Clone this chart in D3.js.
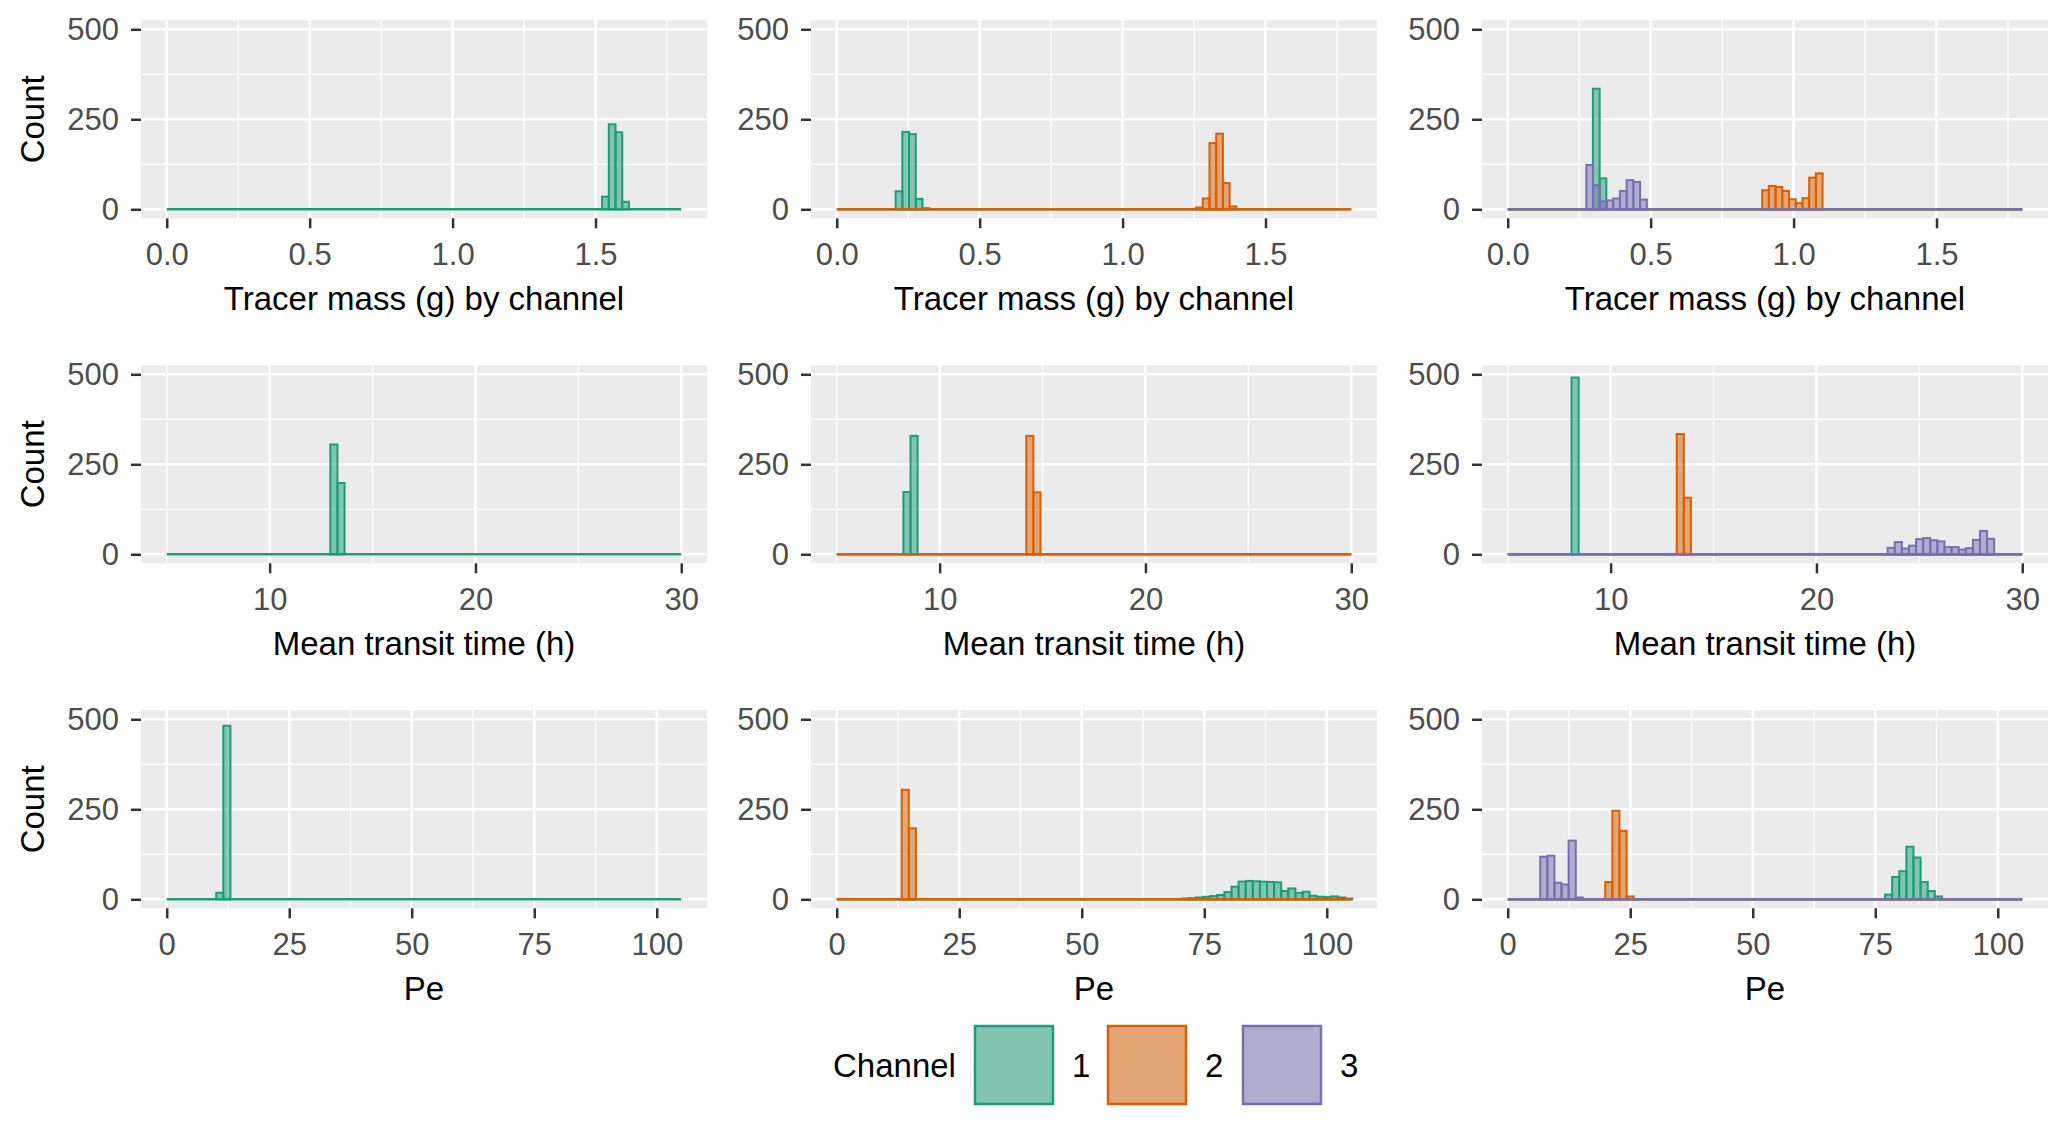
<!DOCTYPE html>
<html>
<head>
<meta charset="utf-8">
<script src="https://cdn.jsdelivr.net/npm/d3@7"></script>
<style>
  body { margin: 0; background: #fff; }
  text { font-family: "Liberation Sans", Arial, sans-serif; }
</style>
</head>
<body>
<div id="chart"></div>
<script>
// channels and colours (Dark2)
const channels = ["1", "2", "3"];
const channelColors = ["#1B9E77", "#D95F02", "#7570B3"];

// y axis shared by every panel
const countLimits = [0, 500];
const countTicks = [0, 250, 500];

// row 1: tracer mass
const massLimits = [0, 1.8];
const massTicks = [0, 0.5, 1.0, 1.5];
const massBin = 0.0235;
// starts and counts per panel (column), then per channel
const massStarts = [[1.523], [0.206, 1.257], [0.298, 0.890, 0.275]];
const massCounts = [
  [[35, 236, 214, 21]],
  [[50, 215, 209, 29, 3], [5, 30, 184, 210, 73, 8]],
  [[335, 86], [53, 65, 62, 51, 28, 17, 31, 88, 100], [123, 67, 22, 25, 30, 51, 81, 76, 27]]
];

// row 2: mean transit time
const timeLimits = [5, 30];
const timeTicks = [10, 20, 30];
const timeBin = 0.345;
const timeStarts = [[12.95], [8.24, 14.21], [8.10, 13.21, 23.46]];
const timeCounts = [
  [[305, 198]],
  [[173, 329], [329, 172]],
  [[491], [334, 157], [18, 34, 16, 24, 42, 45, 39, 36, 20, 20, 13, 17, 40, 65, 43]]
];

// row 3: Peclet number
const peLimits = [0, 105];
const peTicks = [0, 25, 50, 75, 100];
const peBin = 1.45;
const peStarts = [[10.1], [70.4, 13.26], [77.0, 19.9, 6.63]];
const peCounts = [
  [[18, 482]],
  [[2, 3, 5, 7, 9, 12, 20, 35, 49, 51, 50, 49, 48, 47, 23, 30, 18, 21, 10, 7, 6, 8, 5, 2], [304, 197]],
  [[13, 62, 78, 146, 116, 48, 23, 8], [48, 246, 190, 8], [118, 121, 46, 41, 163, 5]]
];

const rows = [
  { title: "Tracer mass (g) by channel", limits: massLimits, ticks: massTicks, fmt: d3.format(".1f"), bin: massBin, starts: massStarts, counts: massCounts },
  { title: "Mean transit time (h)", limits: timeLimits, ticks: timeTicks, fmt: d3.format("d"), bin: timeBin, starts: timeStarts, counts: timeCounts },
  { title: "Pe", limits: peLimits, ticks: peTicks, fmt: d3.format("d"), bin: peBin, starts: peStarts, counts: peCounts }
];

const width = 2067;
const height = 1124;
const colLeft = [141, 811, 1482];
const rowTop = [20.3, 365.3, 710.3];
const panelW = 566;
const panelH = 198;

const svg = d3.select("#chart").append("svg")
  .attr("width", width).attr("height", height);
svg.append("rect").attr("width", width).attr("height", height).attr("fill", "#fff");

// ggplot style 5% expansion
const expand = (lim) => {
  const s = lim[1] - lim[0];
  return [lim[0] - 0.05 * s, lim[1] + 0.05 * s];
}

// minor breaks halfway between majors, kept inside the domain
const minorsOf = (ticks, dom) => {
  const step = ticks[1] - ticks[0];
  const out = [];
  for (let i = -1; i < ticks.length; i++) {
    const m = (i < 0 ? ticks[0] - step : ticks[i]) + step / 2;
    if (m > dom[0] && m < dom[1]) out.push(m);
  }
  return out;
}

const styleAxis = (g) => {
  g.select(".domain").remove();
  g.selectAll(".tick line").attr("stroke", "#333").attr("stroke-width", 2.5);
  g.selectAll(".tick text").attr("fill", "#4D4D4D").attr("font-size", 31);
}

rows.forEach((row, r) => {
  for (let c = 0; c < 3; c++) {
    const px = colLeft[c];
    const py = rowTop[r];
    const xDom = expand(row.limits);
    const yDom = expand(countLimits);
    const x = d3.scaleLinear().domain(xDom).range([px, px + panelW]);
    const y = d3.scaleLinear().domain(yDom).range([py + panelH, py]);
    const g = svg.append("g");

    g.append("rect")
      .attr("x", px).attr("y", py).attr("width", panelW).attr("height", panelH)
      .attr("fill", "#EBEBEB");

    // grid
    g.selectAll(".vminor").data(minorsOf(row.ticks, xDom)).join("line")
      .attr("x1", d => x(d)).attr("x2", d => x(d)).attr("y1", py).attr("y2", py + panelH)
      .attr("stroke", "#fff").attr("stroke-width", 1.3);
    g.selectAll(".hminor").data(minorsOf(countTicks, yDom)).join("line")
      .attr("y1", d => y(d)).attr("y2", d => y(d)).attr("x1", px).attr("x2", px + panelW)
      .attr("stroke", "#fff").attr("stroke-width", 1.3);
    g.selectAll(".vmajor").data(row.ticks).join("line")
      .attr("x1", d => x(d)).attr("x2", d => x(d)).attr("y1", py).attr("y2", py + panelH)
      .attr("stroke", "#fff").attr("stroke-width", 2.6);
    g.selectAll(".hmajor").data(countTicks).join("line")
      .attr("y1", d => y(d)).attr("y2", d => y(d)).attr("x1", px).attr("x2", px + panelW)
      .attr("stroke", "#fff").attr("stroke-width", 2.6);

    // histograms, channel by channel
    row.counts[c].forEach((counts, k) => {
      const col = channelColors[k];
      const start = row.starts[c][k];
      g.append("line")
        .attr("x1", x(row.limits[0])).attr("x2", x(row.limits[1]))
        .attr("y1", y(0)).attr("y2", y(0))
        .attr("stroke", col).attr("stroke-width", 2.5);
      g.selectAll(null).data(counts).join("rect")
        .attr("x", (d, i) => x(start + i * row.bin))
        .attr("width", (d, i) => x(start + (i + 1) * row.bin) - x(start + i * row.bin))
        .attr("y", d => y(d))
        .attr("height", d => y(0) - y(d))
        .attr("fill", col).attr("fill-opacity", 0.5)
        .attr("stroke", col).attr("stroke-width", 2);
    });

    // axes
    g.append("g").attr("transform", `translate(0,${py + panelH})`)
      .call(d3.axisBottom(x).tickValues(row.ticks).tickFormat(row.fmt).tickSize(10).tickPadding(15))
      .call(styleAxis);
    g.append("g").attr("transform", `translate(${px},0)`)
      .call(d3.axisLeft(y).tickValues(countTicks).tickSize(10).tickPadding(12))
      .call(styleAxis);

    g.append("text")
      .attr("x", px + panelW / 2).attr("y", py + panelH + 92)
      .attr("text-anchor", "middle").attr("font-size", 33).attr("fill", "#000")
      .text(row.title);

    if (c === 0) {
      g.append("text")
        .attr("transform", `translate(44,${py + panelH / 2}) rotate(-90)`)
        .attr("text-anchor", "middle").attr("font-size", 33).attr("fill", "#000")
        .text("Count");
    }
  }
});

// legend
const legend = svg.append("g");
legend.append("text").attr("x", 833).attr("y", 1077)
  .attr("font-size", 33).attr("fill", "#000").text("Channel");
const keyX = [974, 1107, 1242];
channels.forEach((ch, i) => {
  legend.append("rect").attr("x", keyX[i]).attr("y", 1025).attr("width", 80).attr("height", 80)
    .attr("fill", "#EBEBEB");
  legend.append("rect").attr("x", keyX[i] + 1).attr("y", 1026).attr("width", 78).attr("height", 78)
    .attr("fill", channelColors[i]).attr("fill-opacity", 0.5)
    .attr("stroke", channelColors[i]).attr("stroke-width", 2.5);
  legend.append("text").attr("x", keyX[i] + 98).attr("y", 1077)
    .attr("font-size", 33).attr("fill", "#000").text(ch);
});
</script>
</body>
</html>
